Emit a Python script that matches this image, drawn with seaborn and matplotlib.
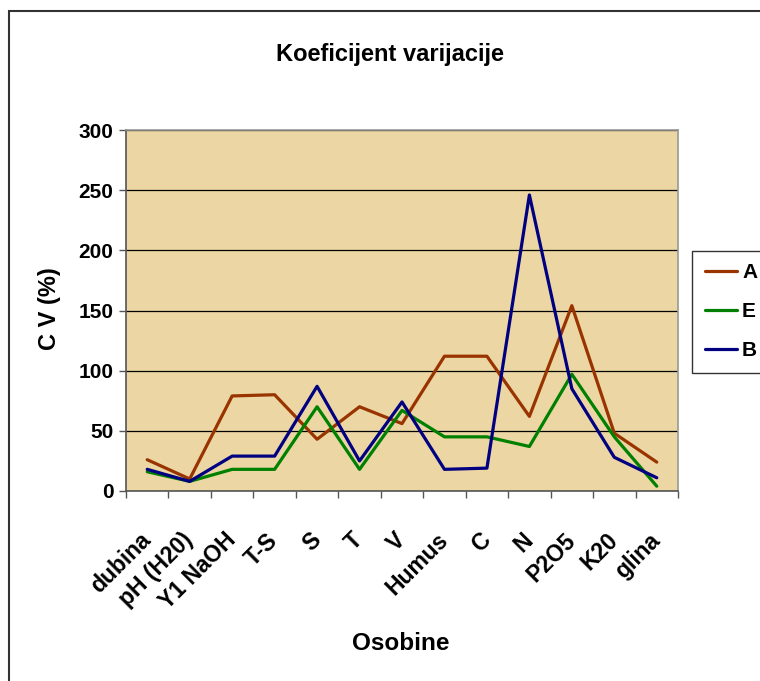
import pandas as pd
import numpy as np
import seaborn as sns
import matplotlib.pyplot as plt
from matplotlib.patches import Rectangle
from matplotlib.transforms import ScaledTranslation

osobine = ["dubina", "pH (H20)", "Y1 NaOH", "T-S", "S", "T", "V",
           "Humus", "C", "N", "P2O5", "K20", "glina"]
cv_A = [26, 10, 79, 80, 43, 70, 56, 112, 112, 62, 154, 48, 24]
cv_E = [16, 8, 18, 18, 70, 18, 67, 45, 45, 37, 97, 45, 4]
cv_B = [18, 8, 29, 29, 87, 25, 74, 18, 19, 246, 85, 28, 11]
serije = ["A", "E", "B"]
boje = ["#993300", "#008000", "#000080"]

rows = []
for s, vals in zip(serije, [cv_A, cv_E, cv_B]):
    for i, v in enumerate(vals):
        rows.append({"pos": i, "CV": v, "serija": s})
df = pd.DataFrame(rows)

sns.set_style("white")
plt.rcParams['font.family'] = ['Liberation Sans', 'DejaVu Sans']
plt.rcParams['font.weight'] = 'bold'
plt.rcParams['text.color'] = 'black'
plt.rcParams['axes.labelcolor'] = 'black'
plt.rcParams['xtick.labelcolor'] = 'black'
plt.rcParams['ytick.labelcolor'] = 'black'

fig = plt.figure(figsize=(7.6, 6.81), dpi=100)
ax = fig.add_axes([126/760, 1-491/681, 552/760, 361/681])
ax.set_facecolor("#EBD6A4")

sns.lineplot(data=df, x="pos", y="CV", hue="serija", hue_order=serije,
             palette=boje, linewidth=2.3, ax=ax, legend=False)

ax.set_xlim(-0.5, len(osobine) - 0.5)
ax.set_ylim(0, 300)
ax.set_yticks(np.arange(0, 301, 50))
ax.yaxis.grid(True, color="black", linewidth=0.9)
ax.set_axisbelow(True)

ax.set_xticks(range(len(osobine)))
ax.set_xticklabels(osobine, rotation=45, ha="right", va="center",
                   rotation_mode="anchor", fontsize=16.5, fontweight="bold")
shift = ScaledTranslation(-4/100, 0, fig.dpi_scale_trans)
for lbl in ax.get_xticklabels():
    lbl.set_transform(lbl.get_transform() + shift)
ax.set_xticks(np.arange(-0.5, len(osobine), 1), minor=True)
ax.tick_params(axis="x", which="major", length=0, pad=33)
ax.tick_params(axis="x", which="minor", length=5, width=1, color="#555555",
               direction="out", bottom=True)
ax.tick_params(axis="y", length=5, width=1, color="#555555", direction="out",
               left=True, labelsize=15, pad=4)
for lbl in ax.get_yticklabels():
    lbl.set_fontweight("bold")

for side in ["left", "bottom"]:
    ax.spines[side].set_color("#555555")
    ax.spines[side].set_linewidth(1.2)
for side in ["top", "right"]:
    ax.spines[side].set_color("#999999")
    ax.spines[side].set_linewidth(1.2)

ax.set_xlabel("Osobine", fontsize=17.5, fontweight="bold", va="top")
ax.xaxis.set_label_coords(0.498, -0.39)
ax.set_ylabel("C V (%)", fontsize=17, fontweight="bold")
ax.yaxis.set_label_coords(-0.118, 0.505)
fig.text(390/760, 1-54/681, "Koeficijent varijacije", fontsize=17,
         fontweight="bold", ha="center", va="center")

handles = [plt.Line2D([], [], color=c, linewidth=2.3) for c in boje]
leg = fig.legend(handles, serije, loc="upper left",
                 bbox_to_anchor=(692/760, 1-251/681), frameon=True,
                 fancybox=False, edgecolor="black", borderaxespad=0,
                 handlelength=1.55, handletextpad=0.25, labelspacing=0.95,
                 borderpad=0.6, prop={"weight": "bold", "size": 15})
leg.get_frame().set_linewidth(1.0)

fig.patches.append(Rectangle((9/760, -0.1), 1.2, 1 - 11/681 + 0.1,
                             transform=fig.transFigure, fill=False,
                             edgecolor="#333333", linewidth=1.5))

fig.savefig("out.png", dpi=100)
